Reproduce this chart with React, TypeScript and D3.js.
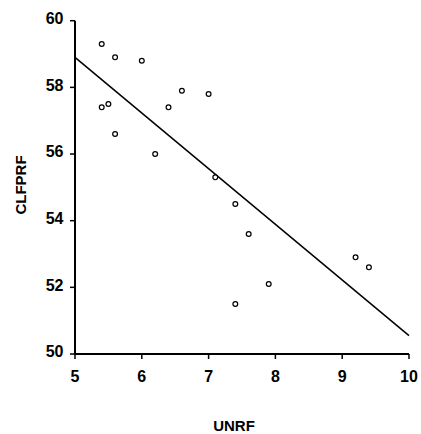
import React from "react";
import * as d3 from "d3";

const unrf: number[] = [5.4, 5.6, 6.0, 5.4, 5.5, 5.6, 6.2, 6.4, 6.6, 7.0, 7.1, 7.4, 7.6, 7.9, 7.4, 9.2, 9.4];
const clfprf: number[] = [59.3, 58.9, 58.8, 57.4, 57.5, 56.6, 56.0, 57.4, 57.9, 57.8, 55.3, 54.5, 53.6, 52.1, 51.5, 52.9, 52.6];
const xTicks: number[] = [5, 6, 7, 8, 9, 10];
const yTicks: number[] = [50, 52, 54, 56, 58, 60];
const fitIntercept = 67.25;
const fitSlope = -1.67;
const xTitle = "UNRF";
const yTitle = "CLFPRF";

export default function App() {
  const W = 421, H = 434;
  const x = d3.scaleLinear().domain([5, 10]).range([75, 409]);
  const y = d3.scaleLinear().domain([50, 60]).range([354, 20.7]);
  const font = "'Liberation Sans', Arial, sans-serif";
  const pts = unrf.map((u, i) => ({ u, c: clfprf[i] }));
  const fitX = [5, 10];
  const line = d3.line<number>().x((d) => x(d)).y((d) => y(fitIntercept + fitSlope * d));
  return (
    <svg width={W} height={H} style={{ position: "absolute", left: 0, top: 0, background: "#fff" }}>
      <rect x={0} y={0} width={W} height={H} fill="#fff" />
      <line x1={x(5)} x2={x(5)} y1={y(60)} y2={y(50)} stroke="#000" strokeWidth={2} />
      <line x1={x(5)} x2={x(10)} y1={y(50)} y2={y(50)} stroke="#000" strokeWidth={2} />
      {yTicks.map((t) => (
        <g key={"y" + t}>
          <line x1={x(5) - 5} x2={x(5)} y1={y(t)} y2={y(t)} stroke="#000" strokeWidth={1.5} />
          <text x={63.5} y={y(t) + 3.3} textAnchor="end" fontFamily={font} fontWeight="bold" fontSize={16} fill="#000">
            {t}
          </text>
        </g>
      ))}
      {xTicks.map((t) => (
        <g key={"x" + t}>
          <line x1={x(t)} x2={x(t)} y1={y(50)} y2={y(50) + 5} stroke="#000" strokeWidth={1.5} />
          <text x={x(t)} y={y(50) + 27.5} textAnchor="middle" fontFamily={font} fontWeight="bold" fontSize={16} fill="#000">
            {t}
          </text>
        </g>
      ))}
      <path d={line(fitX) || ""} fill="none" stroke="#000" strokeWidth={1.5} />
      {pts.map((p, i) => (
        <circle key={i} cx={x(p.u)} cy={y(p.c)} r={2.4} fill="#fff" stroke="#000" strokeWidth={1.2} />
      ))}
      <text x={234} y={431} textAnchor="middle" fontFamily={font} fontWeight="bold" fontSize={15} fill="#000">
        {xTitle}
      </text>
      <text
        transform={`translate(26,185) rotate(-90)`}
        textAnchor="middle"
        fontFamily={font}
        fontWeight="bold"
        fontSize={15}
        fill="#000"
      >
        {yTitle}
      </text>
    </svg>
  );
}
